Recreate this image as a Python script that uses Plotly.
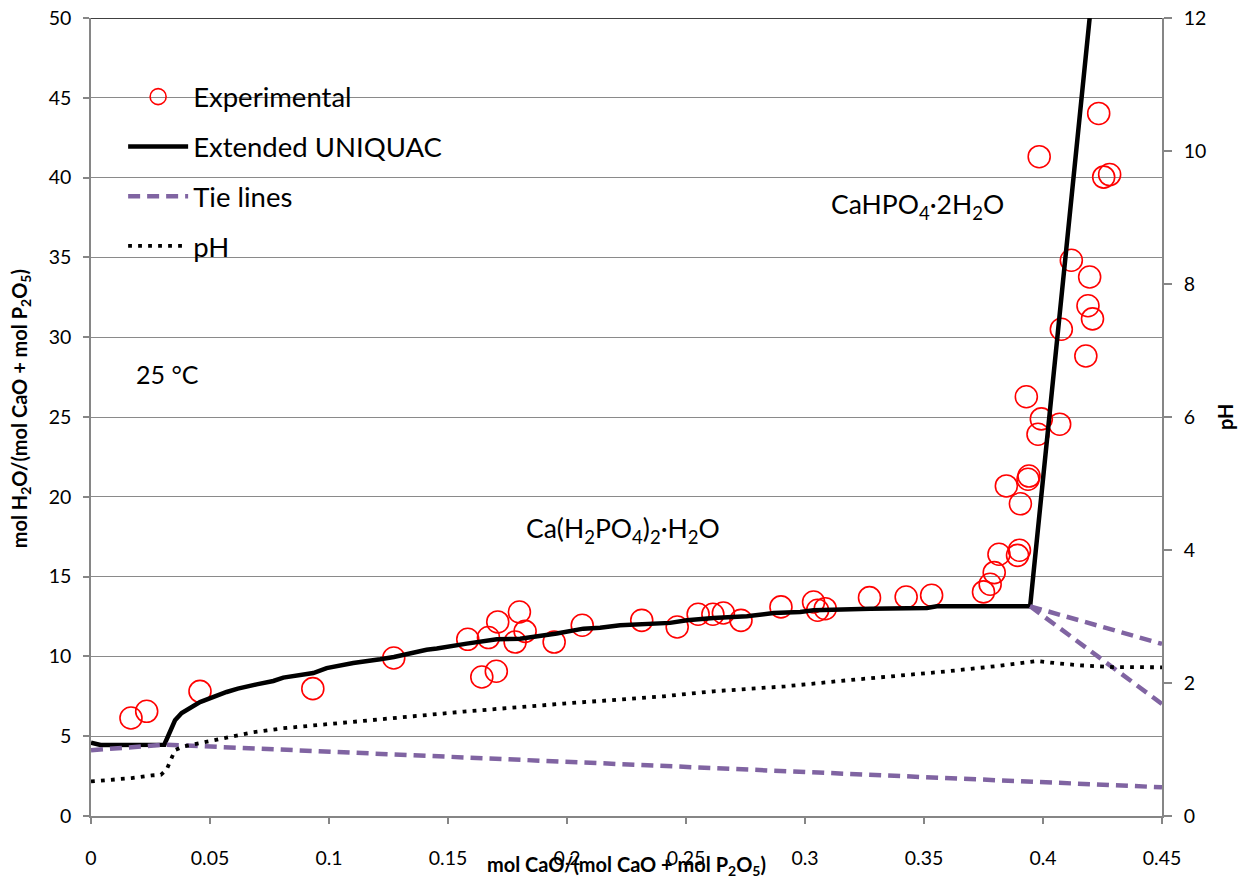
import plotly.graph_objects as go

# Experimental solubility points, CaO-P2O5-H2O at 25 °C
exp_x = [0.0168, 0.0234, 0.0458, 0.0932, 0.1272, 0.1583, 0.1670, 0.1709, 0.1800, 0.1824,
         0.1782, 0.1642, 0.1703, 0.1946, 0.2064, 0.2314, 0.2463, 0.2551, 0.2613, 0.2657,
         0.2731, 0.2899, 0.3036, 0.3053, 0.3085, 0.3271, 0.3425, 0.3532, 0.3750, 0.3778,
         0.3795, 0.3815, 0.3893, 0.3901, 0.3846, 0.3905, 0.3937, 0.3941, 0.3930, 0.3979,
         0.3993, 0.4070, 0.4077, 0.4180, 0.4208, 0.4189, 0.4196, 0.4119, 0.4255, 0.4280,
         0.3984, 0.4234]
exp_y = [6.14, 6.56, 7.81, 7.98, 9.90, 11.07, 11.18, 12.16, 12.78, 11.57,
         10.90, 8.71, 9.07, 10.90, 11.95, 12.26, 11.84, 12.64, 12.64, 12.72,
         12.26, 13.10, 13.41, 12.89, 12.99, 13.68, 13.72, 13.83, 14.04, 14.52,
         15.25, 16.40, 16.33, 16.65, 20.68, 19.56, 21.10, 21.30, 26.27, 23.92,
         24.88, 24.55, 30.50, 28.82, 31.15, 31.97, 33.77, 34.82, 40.03, 40.19,
         41.31, 44.02]

# Extended UNIQUAC solubility curve
model_x = [0.0, 0.004, 0.0308, 0.0353, 0.0381, 0.0458, 0.057, 0.0617, 0.0696, 0.0766,
           0.0808, 0.0934, 0.099, 0.1102, 0.1215, 0.1273, 0.141, 0.1453, 0.1579, 0.1705,
           0.1803, 0.1957, 0.2069, 0.2139, 0.2223, 0.2363, 0.2433, 0.2504, 0.2615, 0.2756,
           0.2868, 0.2980, 0.3036, 0.3274, 0.3512, 0.3554, 0.3946, 0.4196]
model_y = [4.60, 4.45, 4.47, 6.00, 6.45, 7.14, 7.77, 7.98, 8.25, 8.46,
           8.67, 8.96, 9.27, 9.59, 9.82, 9.96, 10.42, 10.49, 10.80, 11.07,
           11.11, 11.43, 11.74, 11.80, 11.95, 12.05, 12.10, 12.26, 12.41, 12.51,
           12.72, 12.78, 12.89, 12.99, 13.03, 13.14, 13.14, 50.0]

# Tie lines (segments separated by None)
tie_x = [0.0, 0.0315, 0.45, None, 0.3946, 0.45, None, 0.3946, 0.45]
tie_y = [4.12, 4.47, 1.80, None, 13.14, 10.78, None, 13.14, 7.02]

# Calculated pH along the saturation curve
ph_x = [0.0, 0.0080, 0.0171, 0.0255, 0.0294, 0.0318, 0.0336, 0.0353, 0.0392, 0.0475,
        0.0598, 0.0682, 0.0808, 0.0976, 0.1144, 0.1355, 0.1565, 0.1985, 0.2405, 0.2616,
        0.2917, 0.3176, 0.3386, 0.3596, 0.3806, 0.3933, 0.3975, 0.4059, 0.4156, 0.4296,
        0.45]
ph_y = [0.52, 0.54, 0.57, 0.61, 0.62, 0.70, 0.85, 0.99, 1.05, 1.11,
        1.20, 1.26, 1.32, 1.37, 1.43, 1.50, 1.57, 1.69, 1.80, 1.875,
        1.95, 2.04, 2.105, 2.175, 2.255, 2.315, 2.33, 2.296, 2.266, 2.24,
        2.236]

FONT = "Lato"
GRID = "#8a8a8a"
AXIS = "#868686"
TICKSIZE = 19.5

fig = go.Figure()

fig.add_trace(go.Scatter(
    x=exp_x, y=exp_y, mode="markers", name="Experimental", legendgroup="a",
    marker=dict(symbol="circle-open", size=22, color="#ff0000", line=dict(width=1.6, color="#ff0000")),
))
fig.add_trace(go.Scatter(
    x=model_x, y=model_y, mode="lines", name="Extended UNIQUAC", legendgroup="b",
    line=dict(color="black", width=4.5),
))
fig.add_trace(go.Scatter(
    x=tie_x, y=tie_y, mode="lines", name="Tie lines", legendgroup="c",
    line=dict(color="#8064a2", width=4.5, dash="12px,7px"), connectgaps=False,
))
fig.add_trace(go.Scatter(
    x=ph_x, y=ph_y, mode="lines", name="pH", legendgroup="d", yaxis="y2",
    line=dict(color="black", width=3.8, dash="3.8px,6.2px"),
))

fig.update_layout(
    width=1245, height=880,
    margin=dict(l=91, r=83, t=18, b=64),
    paper_bgcolor="white", plot_bgcolor="white",
    font=dict(family=FONT, color="black", size=TICKSIZE),
    showlegend=True,
    legend=dict(
        x=0.03, y=0.932, xanchor="left", yanchor="top",
        font=dict(family=FONT, size=27.5, color="black"),
        bgcolor="rgba(0,0,0,0)", tracegroupgap=11, itemwidth=60,
    ),
    xaxis=dict(
        range=[0, 0.45], dtick=0.05, tick0=0, showgrid=False, zeroline=False,
        showline=True, linecolor=AXIS, linewidth=1.5, automargin=False,
        ticks="outside", ticklen=6, tickcolor=AXIS, tickwidth=1.5,
        ticklabelstandoff=18, tickfont=dict(family=FONT, size=TICKSIZE),
    ),
    yaxis=dict(
        range=[0, 50], dtick=5, tick0=0, showgrid=True, gridcolor=GRID, gridwidth=1.2,
        zeroline=False, showline=True, linecolor=AXIS, linewidth=1.5, automargin=False,
        ticks="outside", ticklen=6, tickcolor=AXIS, tickwidth=1.5,
        ticklabelstandoff=8, tickfont=dict(family=FONT, size=TICKSIZE),
    ),
    yaxis2=dict(
        range=[0, 12], dtick=2, tick0=0, overlaying="y", side="right",
        showgrid=False, zeroline=False, showline=True, linecolor=AXIS, linewidth=1.5,
        automargin=False,
        ticks="outside", ticklen=8, tickcolor=AXIS, tickwidth=1.5,
        ticklabelstandoff=8, tickfont=dict(family=FONT, size=TICKSIZE),
    ),
)

# dark border along the top of the plotting area
fig.add_shape(type="line", xref="paper", yref="y", x0=0, x1=1, y0=50, y1=50,
              line=dict(color="black", width=1.5))

annotations = [
    dict(text="CaHPO<sub>4</sub>·2H<sub>2</sub>O", x=0.3472, y=38.2, xref="x", yref="y",
         font=dict(size=26.5)),
    dict(text="Ca(H<sub>2</sub>PO<sub>4</sub>)<sub>2</sub>·H<sub>2</sub>O", x=0.2235, y=17.9,
         xref="x", yref="y", font=dict(size=26.5)),
    dict(text="25 °C", x=0.0323, y=27.7, xref="x", yref="y", font=dict(size=25)),
    dict(text="<b>mol CaO/(mol CaO + mol P<sub>2</sub>O<sub>5</sub>)</b>", x=0.5, y=-0.062,
         xref="paper", yref="paper", font=dict(size=20)),
    dict(text="<b>mol H<sub>2</sub>O/(mol CaO + mol P<sub>2</sub>O<sub>5</sub>)</b>", x=-0.066, y=0.51,
         xref="paper", yref="paper", textangle=-90, font=dict(size=20)),
    dict(text="<b>pH</b>", x=1.0588, y=0.5, xref="paper", yref="paper", textangle=-90,
         font=dict(size=20)),
]
for a in annotations:
    a.update(showarrow=False, xanchor="center", yanchor="middle")
    a["font"] = dict(family=FONT, color="black", **a["font"])
    fig.add_annotation(**a)

fig.write_html("out.html")
